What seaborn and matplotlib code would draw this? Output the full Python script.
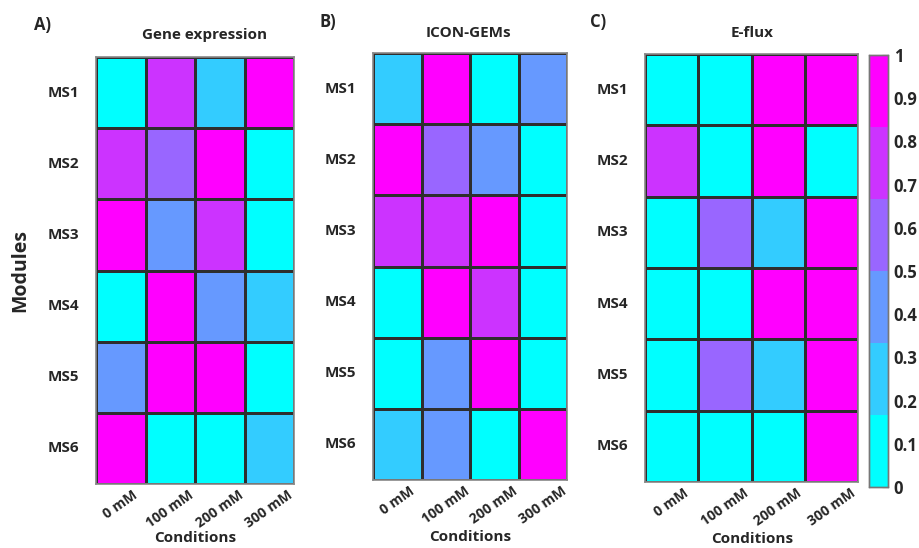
import numpy as np
import pandas as pd
import matplotlib
matplotlib.use("Agg")
import matplotlib.pyplot as plt
from matplotlib.colors import ListedColormap
import seaborn as sns

modules = ["MS1", "MS2", "MS3", "MS4", "MS5", "MS6"]
conditions = ["0 mM", "100 mM", "200 mM", "300 mM"]

gene_expression = [
    [0.0, 0.8, 0.2, 1.0],
    [0.8, 0.6, 1.0, 0.0],
    [1.0, 0.4, 0.8, 0.0],
    [0.0, 1.0, 0.4, 0.2],
    [0.4, 1.0, 1.0, 0.0],
    [1.0, 0.0, 0.0, 0.2],
]
icon_gems = [
    [0.2, 1.0, 0.0, 0.4],
    [1.0, 0.6, 0.4, 0.0],
    [0.8, 0.8, 1.0, 0.0],
    [0.0, 1.0, 0.8, 0.0],
    [0.0, 0.4, 1.0, 0.0],
    [0.2, 0.4, 0.0, 1.0],
]
e_flux = [
    [0.0, 0.0, 1.0, 1.0],
    [0.8, 0.0, 1.0, 0.0],
    [0.0, 0.6, 0.2, 1.0],
    [0.0, 0.0, 1.0, 1.0],
    [0.0, 0.6, 0.2, 1.0],
    [0.0, 0.0, 0.0, 1.0],
]
titles = ["Gene expression", "ICON-GEMs", "E-flux"]
letters = ["A)", "B)", "C)"]
cbar_ticks = [0, 0.1, 0.2, 0.3, 0.4, 0.5, 0.6, 0.7, 0.8, 0.9, 1]
cbar_labels = ["0", "0.1", "0.2", "0.3", "0.4", "0.5", "0.6", "0.7", "0.8", "0.9", "1"]

sns.set_style("white")
plt.rcParams["font.family"] = ["Open Sans", "DejaVu Sans"]
plt.rcParams["font.weight"] = "bold"

cmap = ListedColormap(["#00FFFF", "#33CCFF", "#6699FF", "#9966FF", "#CC33FF", "#FF00FF"])

W, H = 919, 548
fig = plt.figure(figsize=(W / 100, H / 100), dpi=100)

def px_axes(x0, y0, x1, y1):
    return fig.add_axes([x0 / W, 1 - y1 / H, (x1 - x0) / W, (y1 - y0) / H])

boxes = [(96, 57, 294, 484), (373, 53, 567, 480), (645, 54, 858, 482)]
title_pos = [(205, 35), (468, 33), (752, 33)]
letter_pos = [(42, 25), (328, 22), (598, 22)]
xlabel_pos = [(195, 538), (470, 537), (752, 539)]
cax = px_axes(869, 55, 888, 487)

datasets = [gene_expression, icon_gems, e_flux]
for i, data in enumerate(datasets):
    ax = px_axes(*boxes[i])
    df = pd.DataFrame(data, index=modules, columns=conditions)
    sns.heatmap(df, ax=ax, cmap=cmap, vmin=0, vmax=1, linewidths=0.8,
                linecolor="#2e2e2e", cbar=(i == 2), cbar_ax=cax if i == 2 else None)
    for s in ax.spines.values():
        s.set_visible(True)
        s.set_color("#888888")
        s.set_linewidth(1.2)
    ax.set_yticklabels(modules, rotation=0, fontsize=11, fontweight="bold")
    ax.set_xticklabels(conditions, rotation=35, fontsize=10, fontweight="bold",
                       ha="center", va="top")
    ax.tick_params(axis="y", pad=12, length=0)
    ax.tick_params(axis="x", pad=3, length=0)
    ax.set_xlabel("")
    ax.set_ylabel("")
    fig.text(xlabel_pos[i][0] / W, 1 - xlabel_pos[i][1] / H, "Conditions",
             ha="center", va="center", fontsize=11, fontweight="bold")
    fig.text(title_pos[i][0] / W, 1 - title_pos[i][1] / H, titles[i],
             ha="center", va="center", fontsize=11, fontweight="bold")
    fig.text(letter_pos[i][0] / W, 1 - letter_pos[i][1] / H, letters[i],
             ha="center", va="center", fontsize=12, fontweight="bold")

fig.text(20 / W, 1 - 270 / H, "Modules", rotation=90, ha="center", va="center",
         fontsize=14, fontweight="bold")

cax.set_yticks(cbar_ticks)
cax.set_yticklabels(cbar_labels, fontsize=12, fontweight="bold")
cax.tick_params(axis="y", direction="in", length=4, width=0.8, pad=4)
for s in cax.spines.values():
    s.set_visible(True)
    s.set_color("#777777")
    s.set_linewidth(1)

fig.savefig("out.png", dpi=100)
